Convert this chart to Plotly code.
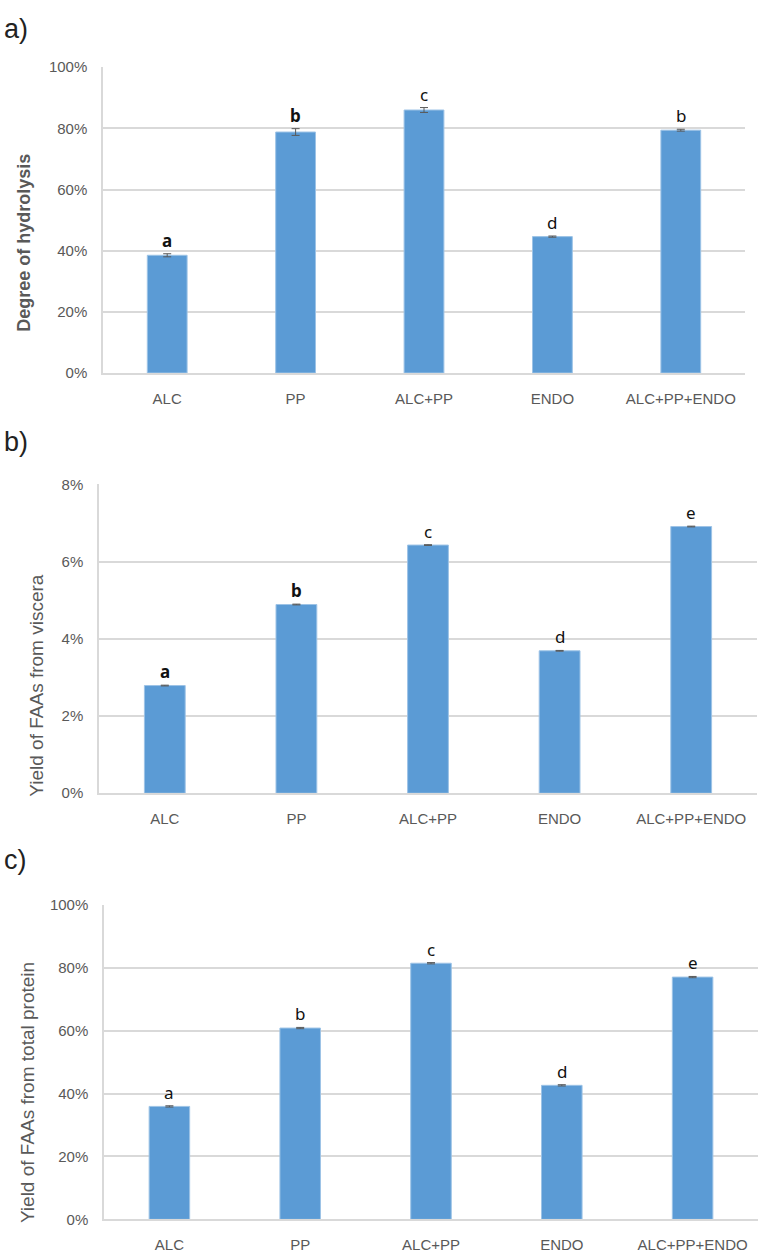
import plotly.graph_objects as go

categories = ["ALC", "PP", "ALC+PP", "ENDO", "ALC+PP+ENDO"]

# Panel a) Degree of hydrolysis (%)
dh_values = [38.5, 78.8, 86.0, 44.6, 79.4]
dh_errors = [0.5, 1.1, 0.8, 0.2, 0.3]
dh_letters = ["a", "b", "c", "d", "b"]

# Panel b) Yield of FAAs from viscera (%)
visc_values = [2.79, 4.89, 6.43, 3.69, 6.91]
visc_errors = [0.01, 0.01, 0.01, 0.01, 0.01]
visc_letters = ["a", "b", "c", "d", "e"]

# Panel c) Yield of FAAs from total protein (%)
prot_values = [35.9, 60.8, 81.4, 42.6, 77.0]
prot_errors = [0.2, 0.2, 0.2, 0.2, 0.2]
prot_letters = ["a", "b", "c", "d", "e"]

H, W = 1255, 762
BAR = "#5b9bd5"
GRID = "#d9d9d9"
TXT = "#595959"
FONT = "Liberation Sans, Arial, sans-serif"
LFONT = "Noto Sans, sans-serif"

panels = [
    dict(vals=dh_values, errs=dh_errors, letters=dh_letters, bold=["a", "b"],
         rng=[0, 100], dtick=20, xd=[103, 745], yd=[59, 369],
         title="<b>Degree of hydrolysis</b>", tx=24, ty=237, label="a)", ly=3),
    dict(vals=visc_values, errs=visc_errors, letters=visc_letters, bold=["a", "b"],
         rng=[0, 8], dtick=2, xd=[99, 757], yd=[482, 795],
         title="Yield of FAAs from viscera", tx=37, ty=686, label="b)", ly=422),
    dict(vals=prot_values, errs=prot_errors, letters=prot_letters, bold=[],
         rng=[0, 100], dtick=20, xd=[104, 758], yd=[908, 1227],
         title="Yield of FAAs from total protein", tx=27, ty=1099, label="c)", ly=845),
]

fig = go.Figure()
annotations = []
layout = {}
for i, p in enumerate(panels):
    n = "" if i == 0 else str(i + 1)
    xa, ya = "x" + n, "y" + n
    fig.add_trace(go.Bar(
        x=categories, y=p["vals"], xaxis=xa, yaxis=ya,
        marker=dict(color=BAR, line=dict(color="#9dc3e6", width=1)),
        error_y=dict(type="data", array=p["errs"], color="#595959", thickness=1, width=4),
        showlegend=False, hoverinfo="skip",
    ))
    layout["xaxis" + n] = dict(
        domain=[p["xd"][0] / W, p["xd"][1] / W], anchor=ya, range=[-0.5, 4.5],
        showline=True, linecolor=GRID, linewidth=1.5, showgrid=False,
        ticks="outside", ticklen=11, tickcolor="rgba(0,0,0,0)",
        tickfont=dict(family=FONT, size=15, color=TXT), fixedrange=True,
    )
    layout["yaxis" + n] = dict(
        domain=[1 - p["yd"][1] / H, 1 - p["yd"][0] / H], anchor=xa,
        range=p["rng"], dtick=p["dtick"], ticksuffix="%",
        showline=True, linecolor=GRID, linewidth=1.5,
        showgrid=True, gridcolor=GRID, gridwidth=1.5, zeroline=False,
        ticks="outside", ticklen=11, tickcolor="rgba(0,0,0,0)",
        tickfont=dict(family=FONT, size=15, color=TXT), fixedrange=True,
    )
    for k, (c, v, e, L) in enumerate(zip(categories, p["vals"], p["errs"], p["letters"])):
        txt = "<b>%s</b>" % L if (L in p["bold"] and k < 2) else L
        annotations.append(dict(
            x=c, y=v + e, xref=xa, yref=ya, text=txt, showarrow=False,
            yanchor="bottom", yshift=0,
            font=dict(family=LFONT, size=17, color="#111111"),
        ))
    annotations.append(dict(
        x=p["tx"] / W, y=1 - p["ty"] / H, xref="paper", yref="paper",
        text=p["title"], textangle=-90, showarrow=False,
        xanchor="center", yanchor="middle",
        font=dict(family=FONT, size=18 if i == 0 else 19, color=TXT),
    ))
    annotations.append(dict(
        x=2 / W, y=1 - p["ly"] / H, xref="paper", yref="paper",
        text=p["label"], showarrow=False, xanchor="left", yanchor="top",
        font=dict(family=FONT, size=27, color="#222222"),
    ))

fig.update_layout(
    width=W, height=H, margin=dict(l=0, r=0, t=0, b=0),
    paper_bgcolor="white", plot_bgcolor="white",
    bargap=0.69, annotations=annotations, hovermode=False, **layout,
)
fig.write_html(
    "out.html",
    config={"displayModeBar": False},
    post_script="document.body.style.margin='0';document.body.style.overflow='hidden';",
)
